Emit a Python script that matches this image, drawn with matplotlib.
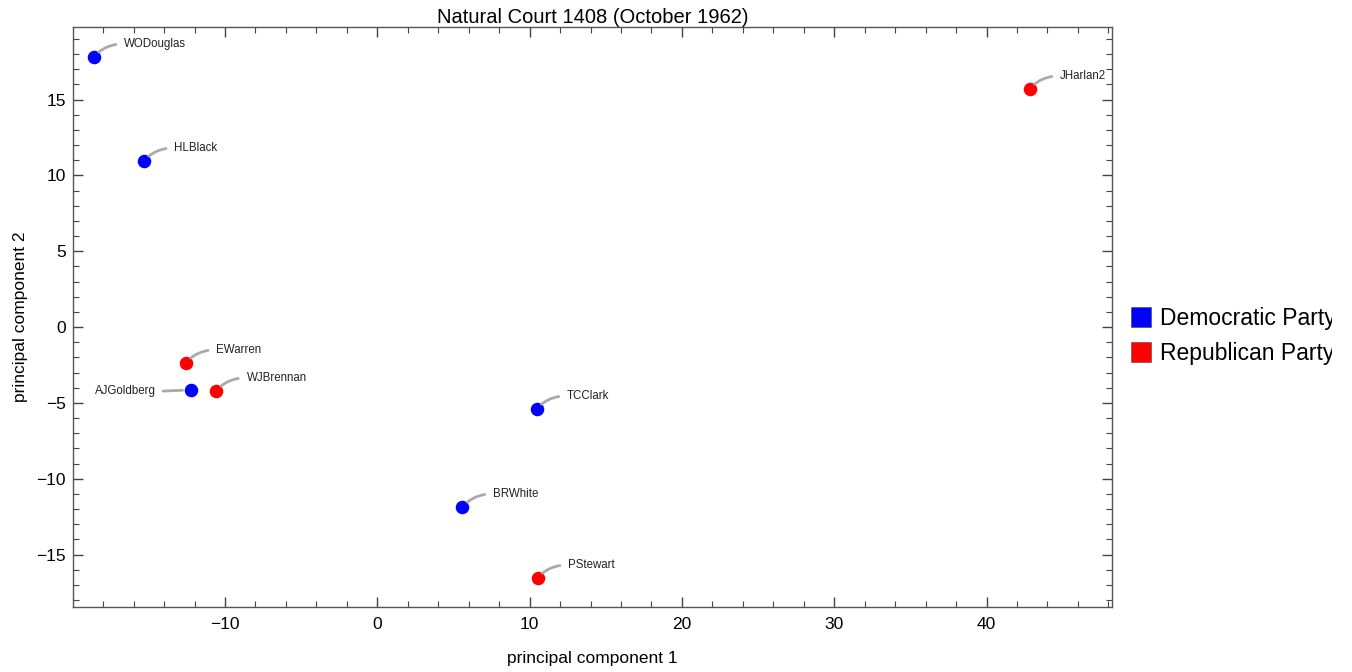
import matplotlib
matplotlib.use("Agg")
import matplotlib.pyplot as plt
from matplotlib.ticker import MultipleLocator
from matplotlib.lines import Line2D
from matplotlib.transforms import Bbox, TransformedBbox

plt.rcParams['font.family'] = ['Liberation Sans', 'DejaVu Sans']

names = ["WODouglas", "HLBlack", "JHarlan2", "EWarren", "AJGoldberg",
         "WJBrennan", "TCClark", "BRWhite", "PStewart"]
pc1 = [-18.62, -15.33, 42.83, -12.57, -12.24, -10.59, 10.46, 5.59, 10.53]
pc2 = [17.80, 10.94, 15.69, -2.37, -4.15, -4.22, -5.41, -11.87, -16.55]
party = ["Democratic Party", "Democratic Party", "Republican Party",
         "Republican Party", "Democratic Party", "Republican Party",
         "Democratic Party", "Democratic Party", "Republican Party"]
party_names = ["Democratic Party", "Republican Party"]
party_colors = {"Democratic Party": "#0000ff", "Republican Party": "#ff0000"}

fig = plt.figure(figsize=(13.52, 6.72), dpi=100)
ax = fig.add_axes([73/1352, 65/672, (1112-73)/1352, (607-27)/672])

for x, y, p in zip(pc1, pc2, party):
    ax.scatter([x], [y], s=95, color=party_colors[p], zorder=3, linewidths=0)

for n, x, y in zip(names, pc1, pc2):
    if n == "AJGoldberg":
        ax.annotate(n, xy=(x, y), xytext=(-25, -1), textcoords='offset points',
                    ha='right', va='center', fontsize=8.3, color='#222222',
                    arrowprops=dict(arrowstyle='-', color='#aaaaaa', lw=2,
                                    shrinkA=3, shrinkB=6,
                                    relpos=(1, 0.5)))
    else:
        ax.annotate(n, xy=(x, y), xytext=(22, 9.5), textcoords='offset points',
                    ha='left', va='center', fontsize=8.3, color='#222222',
                    arrowprops=dict(arrowstyle='-', color='#aaaaaa', lw=2,
                                    shrinkA=4, shrinkB=5,
                                    relpos=(0, 0.5),
                                    connectionstyle='angle3,angleA=0,angleB=50'))

ax.set_xlim(-19.98, 48.24)
ax.set_ylim(-18.46, 19.78)
ax.xaxis.set_major_locator(MultipleLocator(10))
ax.xaxis.set_minor_locator(MultipleLocator(2))
ax.yaxis.set_major_locator(MultipleLocator(5))
ax.yaxis.set_minor_locator(MultipleLocator(1))
ax.tick_params(which='both', direction='in', top=True, right=True,
               labelsize=12.5, color='#444444')
ax.tick_params(which='major', length=7, width=1)
ax.tick_params(axis='x', which='major', pad=7)
ax.tick_params(axis='y', which='major', pad=5)
ax.tick_params(which='minor', length=4.5, width=0.8)
for s in ax.spines.values():
    s.set_color('#555555')
    s.set_linewidth(1)

ax.set_title("Natural Court 1408 (October 1962)", fontsize=14.5, pad=3)
ax.set_xlabel("principal component 1", fontsize=12.5, labelpad=14)
ax.set_ylabel("principal component 2", fontsize=12.5, labelpad=6)

handles = [Line2D([], [], marker='s', linestyle='none', markersize=14,
                  markerfacecolor=party_colors[p], markeredgecolor='#444444',
                  markeredgewidth=0.4) for p in party_names]
leg = fig.legend(handles, party_names, loc='center left',
                 bbox_to_anchor=(1120/1352, 1 - 336/672), frameon=False,
                 fontsize=16.5, handlelength=1.0, handletextpad=0.35,
                 labelspacing=0.5, borderaxespad=0)
clip = TransformedBbox(Bbox([[0, 0], [1332/1352, 1]]), fig.transFigure)
for t in leg.get_texts():
    t.set_clip_box(clip)
    t.set_clip_on(True)

fig.savefig("out.png", dpi=100)
